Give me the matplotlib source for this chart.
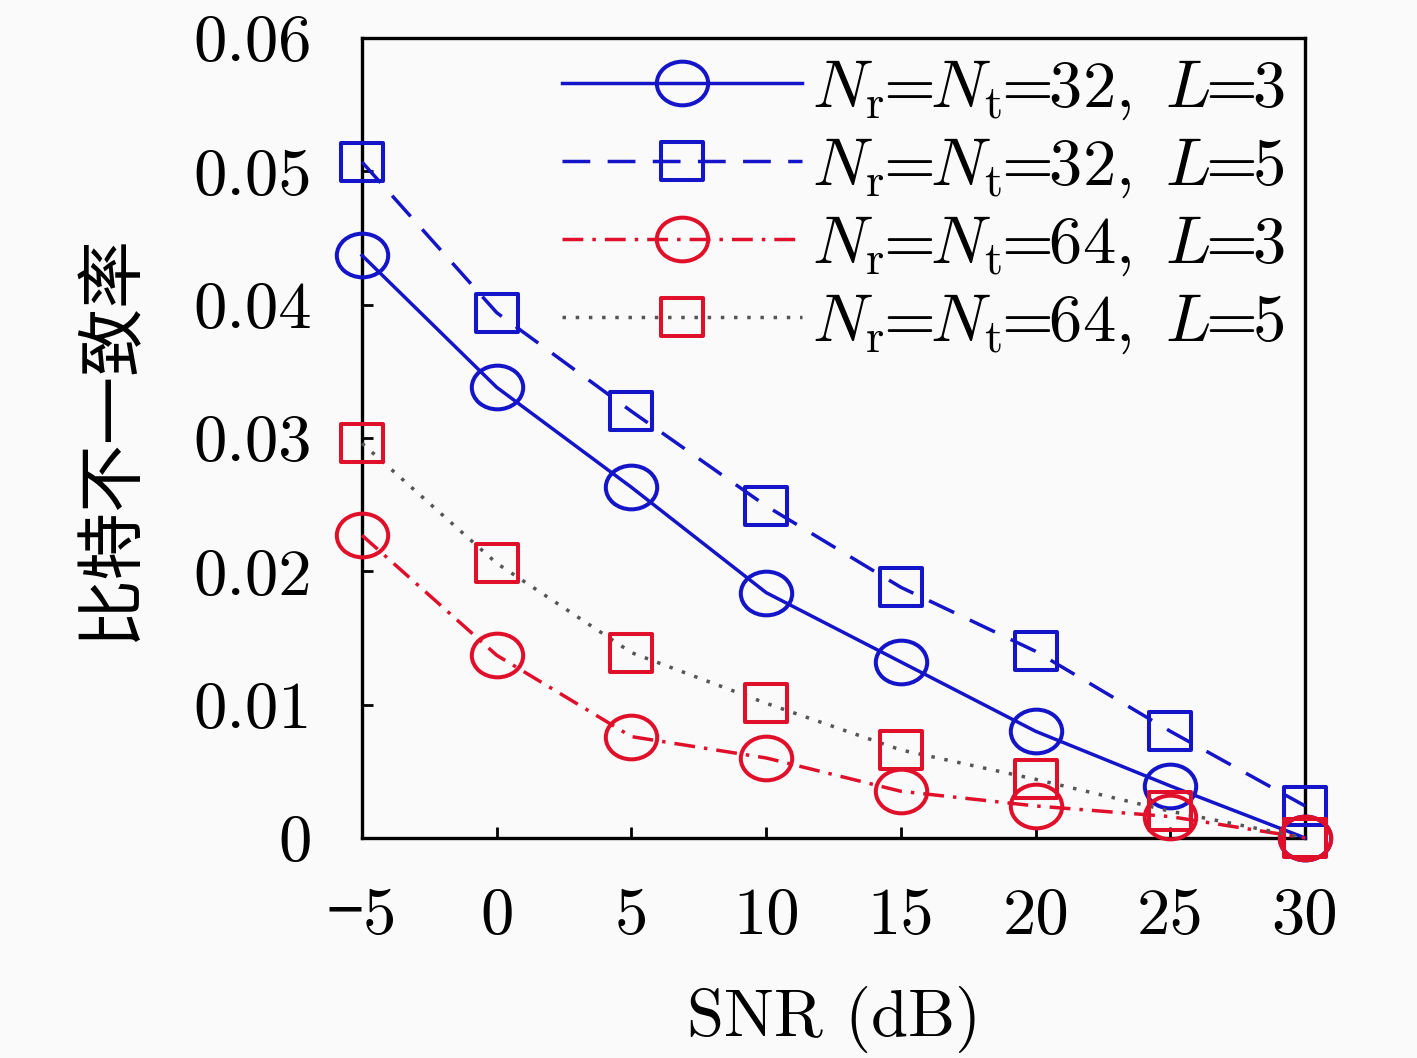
import matplotlib
matplotlib.use("Agg")
import matplotlib.pyplot as plt
from matplotlib.path import Path
from matplotlib.transforms import Affine2D

plt.rcParams['mathtext.fontset'] = 'cm'
plt.rcParams['font.family'] = ['cmr10', 'Noto Sans CJK SC', 'DejaVu Sans']
plt.rcParams['axes.formatter.use_mathtext'] = True
plt.rcParams['axes.unicode_minus'] = True

snr = [-5, 0, 5, 10, 15, 20, 25, 30]
s32_L3 = [0.0437, 0.0338, 0.0263, 0.0184, 0.0132, 0.0080, 0.0039, 0.0000]
s32_L5 = [0.0507, 0.0394, 0.0320, 0.0249, 0.0188, 0.0140, 0.0080, 0.0024]
s64_L3 = [0.0227, 0.0137, 0.0076, 0.0060, 0.0035, 0.0024, 0.0016, 0.0000]
s64_L5 = [0.0296, 0.0206, 0.0139, 0.0101, 0.0066, 0.0044, 0.0020, 0.0000]
_eq = r'\hspace{-0.28}=\hspace{-0.28}'
labels = [r'$N_{\rm r}' + _eq + r'N_{\rm t}' + _eq + r'32,\ L' + _eq + r'3$',
          r'$N_{\rm r}' + _eq + r'N_{\rm t}' + _eq + r'32,\ L' + _eq + r'5$',
          r'$N_{\rm r}' + _eq + r'N_{\rm t}' + _eq + r'64,\ L' + _eq + r'3$',
          r'$N_{\rm r}' + _eq + r'N_{\rm t}' + _eq + r'64,\ L' + _eq + r'5$']
xticks = [-5, 0, 5, 10, 15, 20, 25, 30]
yticks = [0, 0.01, 0.02, 0.03, 0.04, 0.05, 0.06]
ytick_labels = ['0', '0.01', '0.02', '0.03', '0.04', '0.05', '0.06']

ellipse = Path.unit_circle().transformed(Affine2D().scale(1.0, 0.85))
sq = Path([(-1, -1), (1, -1), (1, 1), (-1, 1), (-1, -1)],
          [Path.MOVETO, Path.LINETO, Path.LINETO, Path.LINETO, Path.CLOSEPOLY])
square = sq.transformed(Affine2D().scale(1.0, 0.9))

blue = '#1414c8'
red = '#e0102a'
bg = '#fafafa'

fig = plt.figure(figsize=(14.17, 10.58), dpi=100, facecolor=bg)
ax = fig.add_axes([0.2555, 0.208, 0.6655, 0.756], facecolor=bg)

common = dict(lw=2.5, mfc='none', mew=2.9, clip_on=False)
ax.plot(snr, s32_L3, color=blue, ls='-', marker=ellipse, ms=37, mec=blue,
        label=labels[0], **common)
ax.plot(snr, s32_L5, color=blue, ls=(0, (8, 5)), marker=square, ms=30, mec=blue,
        label=labels[1], **common)
ax.plot(snr, s64_L3, color=red, ls=(0, (6, 2.6, 1, 2.6)), marker=ellipse, ms=37, mec=red,
        label=labels[2], **common)
ax.plot(snr, s64_L5, color='#555555', ls=(0, (1, 2.8)), marker=square, ms=30, mec=red,
        label=labels[3], **common)

ax.set_xlim(-5, 30)
ax.set_ylim(0, 0.06)
ax.set_xticks(xticks)
ax.set_xticklabels([str(v) if v >= 0 else '\u2212' + str(-v) for v in xticks])
ax.set_yticks(yticks)
ax.set_yticklabels(ytick_labels)
ax.tick_params(direction='in', length=8, width=2, labelsize=48)
ax.tick_params(axis='y', pad=36)
ax.tick_params(axis='x', pad=36)
for s in ax.spines.values():
    s.set_linewidth(2.4)
    s.set_zorder(0.5)

ax.set_xlabel('SNR (dB)', fontsize=48, labelpad=28)
ax.set_ylabel('比特不一致率', fontsize=49, labelpad=34,
              family=['Noto Sans CJK SC', 'DejaVu Sans'])

leg = ax.legend(loc='upper right', frameon=False, fontsize=48, handlelength=3.6,
                handletextpad=0.15, labelspacing=0.22, borderaxespad=0.0,
                borderpad=0.3)

fig.savefig('out.png', dpi=100, facecolor=bg)
